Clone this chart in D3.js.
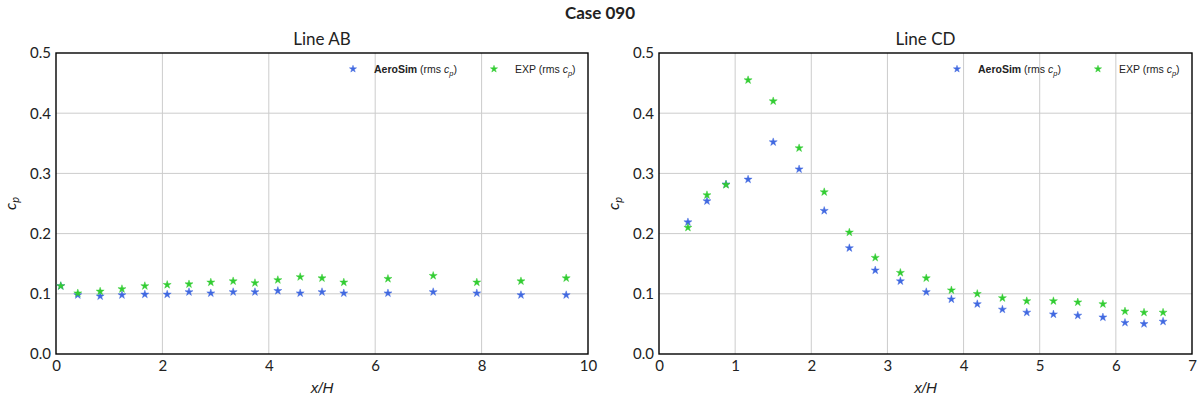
<!DOCTYPE html>
<html><head><meta charset="utf-8">
<script src="https://cdn.jsdelivr.net/npm/d3@7"></script>
<style>body{margin:0;background:#fff}svg{display:block}</style>
</head><body>
<script>
const title = "Case 090";
const panelTitles = ["Line AB", "Line CD"];
const xTicksAB = [0, 2, 4, 6, 8, 10];
const xTicksCD = [0, 1, 2, 3, 4, 5, 6, 7];
const yTicks = [0.0, 0.1, 0.2, 0.3, 0.4, 0.5];

const xAB = [0.09, 0.41, 0.83, 1.24, 1.67, 2.09, 2.50, 2.91, 3.33, 3.74, 4.17, 4.59, 5.00, 5.41, 6.24, 7.09, 7.91, 8.74, 9.59];
const aeroAB = [0.113, 0.098, 0.096, 0.098, 0.099, 0.099, 0.103, 0.101, 0.103, 0.103, 0.105, 0.101, 0.103, 0.101, 0.101, 0.103, 0.101, 0.098, 0.098];
const expAB = [0.113, 0.101, 0.104, 0.108, 0.113, 0.115, 0.116, 0.119, 0.121, 0.118, 0.123, 0.128, 0.126, 0.119, 0.125, 0.130, 0.119, 0.121, 0.126];

const xCD = [0.38, 0.63, 0.88, 1.17, 1.50, 1.84, 2.17, 2.50, 2.84, 3.17, 3.51, 3.84, 4.18, 4.51, 4.83, 5.18, 5.50, 5.83, 6.12, 6.37, 6.62];
const aeroCD = [0.219, 0.254, 0.282, 0.290, 0.352, 0.307, 0.238, 0.176, 0.139, 0.121, 0.103, 0.091, 0.083, 0.074, 0.069, 0.066, 0.064, 0.061, 0.052, 0.050, 0.054];
const expCD = [0.210, 0.264, 0.281, 0.455, 0.420, 0.342, 0.269, 0.202, 0.160, 0.135, 0.126, 0.106, 0.100, 0.093, 0.088, 0.088, 0.086, 0.083, 0.071, 0.069, 0.069];

const W = 1200, H = 400;
const tickFont = "Lato, 'Open Sans', sans-serif";
const svg = d3.select("body").append("svg").attr("width", W).attr("height", H);

svg.append("text").attr("x", 600).attr("y", 19).attr("text-anchor", "middle")
  .attr("font-family", tickFont).attr("font-weight", "bold").attr("font-size", 17)
  .attr("fill", "#222").text(title);

const star = d3.symbol().type(d3.symbolStar).size(20);
const legStar = d3.symbol().type(d3.symbolStar).size(16);
const blue = "#4169e1", green = "#32cd32";

const panels = [
  {x0: 56, x1: 588, xmax: 10, xt: xTicksAB, xs: xAB, a: aeroAB, e: expAB, t: panelTitles[0], leg: 353},
  {x0: 659, x1: 1192, xmax: 7, xt: xTicksCD, xs: xCD, a: aeroCD, e: expCD, t: panelTitles[1], leg: 957}
];
const y0 = 53, y1 = 354;

panels.forEach(p => {
  const x = d3.scaleLinear().domain([0, p.xmax]).range([p.x0, p.x1]);
  const y = d3.scaleLinear().domain([0, 0.5]).range([y1, y0]);
  const g = svg.append("g");
  g.selectAll(".gx").data(p.xt.slice(1, -1)).join("line")
    .attr("x1", d => x(d)).attr("x2", d => x(d)).attr("y1", y0).attr("y2", y1)
    .attr("stroke", "#cccccc").attr("stroke-width", 1);
  g.selectAll(".gy").data(yTicks.slice(1, -1)).join("line")
    .attr("x1", p.x0).attr("x2", p.x1).attr("y1", d => y(d)).attr("y2", d => y(d))
    .attr("stroke", "#cccccc").attr("stroke-width", 1);
  const xa = g.append("g").attr("transform", `translate(0,${y1})`)
    .call(d3.axisBottom(x).tickValues(p.xt).tickSize(0).tickPadding(6).tickFormat(d3.format("d")));
  const ya = g.append("g").attr("transform", `translate(${p.x0},0)`)
    .call(d3.axisLeft(y).tickValues(yTicks).tickSize(0).tickPadding(5).tickFormat(d3.format(".1f")));
  [xa, ya].forEach(a => {
    a.select(".domain").remove();
    a.selectAll("text").attr("font-family", tickFont).attr("font-size", 15).attr("fill", "#222");
  });
  g.append("rect").attr("x", p.x0).attr("y", y0).attr("width", p.x1 - p.x0).attr("height", y1 - y0)
    .attr("fill", "none").attr("stroke", "#000").attr("stroke-width", 1.4);
  g.append("text").attr("x", (p.x0 + p.x1) / 2).attr("y", 45).attr("text-anchor", "middle")
    .attr("font-family", tickFont).attr("font-size", 17).attr("fill", "#222").text(p.t);
  g.append("text").attr("x", (p.x0 + p.x1) / 2).attr("y", 393).attr("text-anchor", "middle")
    .attr("font-family", "'Liberation Sans', Arial, sans-serif").attr("font-style", "italic")
    .attr("font-size", 15).attr("fill", "#222").text("x/H");
  const yl = g.append("text").attr("transform", `translate(${p.x0 - 40},${(y0 + y1) / 2}) rotate(-90)`)
    .attr("text-anchor", "middle").attr("font-family", tickFont).attr("font-size", 16).attr("fill", "#222");
  yl.append("tspan").attr("font-style", "italic").text("c");
  yl.append("tspan").attr("font-style", "italic").attr("font-size", 11).attr("dy", 3).text("p");
  const pts = (vals, col) => g.append("g").selectAll("path").data(p.xs.map((d, i) => [d, vals[i]])).join("path")
    .attr("d", star).attr("transform", d => `translate(${x(d[0])},${y(d[1])})`)
    .attr("fill", col).attr("stroke", col).attr("stroke-opacity", 0.45).attr("stroke-width", 1);
  pts(p.a, blue);
  pts(p.e, green);
  const lf = "'Liberation Sans', Arial, sans-serif";
  const items = [{c: blue, bold: "AeroSim", rest: " (rms ", dx: 0}, {c: green, bold: "", rest: "EXP (rms ", dx: 141}];
  items.forEach(it => {
    const lx = p.leg + it.dx;
    g.append("path").attr("d", legStar).attr("transform", `translate(${lx},69)`).attr("fill", it.c)
      .attr("stroke", it.c).attr("stroke-opacity", 0.45).attr("stroke-width", 1);
    const t = g.append("text").attr("x", lx + 21).attr("y", 73).attr("font-family", lf)
      .attr("font-size", 10.5).attr("fill", "#222");
    if (it.bold) t.append("tspan").attr("font-weight", "bold").text(it.bold);
    t.append("tspan").text(it.rest);
    t.append("tspan").attr("font-style", "italic").text("c");
    t.append("tspan").attr("font-style", "italic").attr("font-size", 7.5).attr("dy", 3).text("p");
    t.append("tspan").attr("dy", -3).text(")");
  });
});
</script>
</body></html>
